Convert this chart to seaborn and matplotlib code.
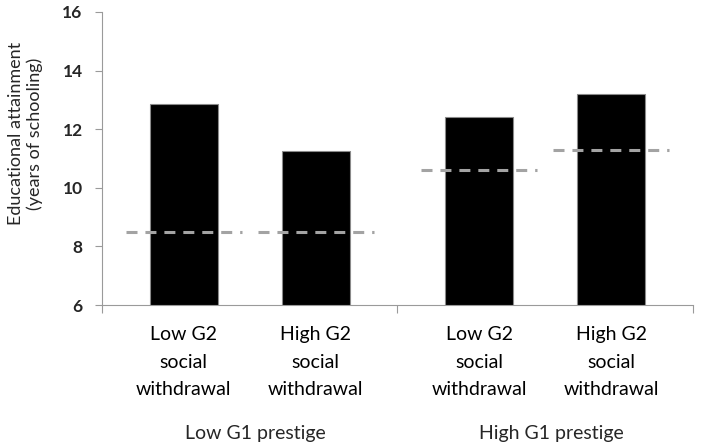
import matplotlib
matplotlib.use("Agg")
import matplotlib.pyplot as plt
import matplotlib.transforms as mtransforms
import seaborn as sns
import pandas as pd

# ---- data ----
prestige = ["Low G1 prestige", "Low G1 prestige", "High G1 prestige", "High G1 prestige"]
withdrawal = ["Low G2\nsocial\nwithdrawal", "High G2\nsocial\nwithdrawal",
              "Low G2\nsocial\nwithdrawal", "High G2\nsocial\nwithdrawal"]
attainment = [12.85, 11.25, 12.4, 13.2]
reference_level = [8.5, 8.5, 10.6, 11.3]
group_labels = ["Low G1 prestige", "High G1 prestige"]
y_ticks = [6, 8, 10, 12, 14, 16]

df = pd.DataFrame({"prestige": prestige, "withdrawal": withdrawal, "value": attainment})

sns.set_theme(style="white")
plt.rcParams["font.family"] = ["Lato", "DejaVu Sans"]

fig = plt.figure(figsize=(7.02, 4.43), dpi=100)
ax = fig.add_axes([0.1453, 0.3115, 0.8417, 0.6615])

sns.barplot(data=df, x="prestige", y="value", hue="withdrawal",
            order=group_labels, hue_order=withdrawal[:2],
            palette=["black", "black"], width=0.892, gap=0.484,
            edgecolor="#8a8a8a", linewidth=0.8, legend=False, ax=ax)

bars = sorted(ax.patches, key=lambda p: p.get_x())
centers = [p.get_x() + p.get_width() / 2 for p in bars]

# dashed reference lines
half = 0.196
for c, lvl in zip(centers, reference_level):
    ax.hlines(lvl, c - half, c + half, colors="#a3a3a3", linewidth=2.2,
              linestyles=(0, (3.6, 2.6)), zorder=3)

ax.set_ylim(6, 16)
ax.set_yticks(y_ticks)
ax.set_yticklabels([str(t) for t in y_ticks], fontweight="bold", fontsize=12.5)
ax.set_xlim(-0.5, 1.5)

ax.set_xticks(centers)
ax.set_xticklabels(withdrawal, fontsize=14, linespacing=1.77)
ax.set_xticks([-0.5, 0.5, 1.5], minor=True)
ax.tick_params(axis="x", which="major", length=0, pad=15, colors="black")
ax.tick_params(axis="x", which="minor", length=6, width=0.8, color="#9a9a9a", direction="out", bottom=True)
ax.tick_params(axis="y", which="major", length=5, width=0.8, color="#9a9a9a", direction="out", left=True, pad=9)

for s in ["top", "right"]:
    ax.spines[s].set_visible(False)
for s in ["left", "bottom"]:
    ax.spines[s].set_color("#9a9a9a")
    ax.spines[s].set_linewidth(0.8)

ax.set_xlabel("")
ax.set_ylabel("Educational attainment\n(years of schooling)", fontsize=13, linespacing=1.15)
ax.yaxis.set_label_coords(-0.10, 0.585)

trans = mtransforms.blended_transform_factory(ax.transData, ax.transAxes)
for i, lab in enumerate(group_labels):
    ax.text(i + 0.02, -0.437, lab, transform=trans, ha="center", va="center", fontsize=14)

fig.savefig("out.png", dpi=100)
